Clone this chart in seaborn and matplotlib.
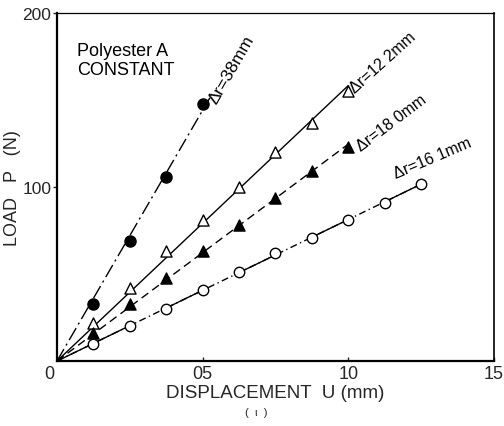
import numpy as np
import pandas as pd
import matplotlib
matplotlib.use("Agg")
import matplotlib.pyplot as plt
from matplotlib.transforms import ScaledTranslation
import seaborn as sns

# Displacement steps (mm) and measured loads (N) for each ring width
u_steps = [0.125, 0.25, 0.375, 0.5, 0.625, 0.75, 0.875, 1.0, 1.125, 1.25]
load_38 = [33, 69, 106, 148]
load_122 = [22, 42, 63, 81, 100, 120, 137, 155]
load_180 = [16, 33, 48, 63, 78, 94, 109, 123]
load_161 = [10, 20, 30, 41, 51, 62, 71, 81, 91, 102]

series_names = ["Δr=38mm", "Δr=12 2mm", "Δr=18 0mm", "Δr=16 1mm"]
series_loads = [load_38, load_122, load_180, load_161]

x_ticks = [0, 0.5, 1.0, 1.5]
x_tick_labels = ["0", "05", "10", "15"]
y_ticks = [100, 200]
y_tick_labels = ["100", "200"]

sns.set_style("ticks")
plt.rcParams["font.family"] = ["Liberation Sans", "DejaVu Sans"]

fig = plt.figure(figsize=(5.04, 4.27), dpi=100)
ax = fig.add_axes([0.113, 0.152, 0.867, 0.815])

frames = []
for name, loads in zip(series_names, series_loads):
    frames.append(pd.DataFrame({"U": u_steps[:len(loads)], "P": loads, "series": name}))
points = pd.concat(frames, ignore_index=True)


def slope_through_origin(df):
    return (df.U * df.P).sum() / (df.U ** 2).sum()


line_style = {
    "Δr=38mm": (0, (10, 3, 1.5, 3)),
    "Δr=12 2mm": "-",
    "Δr=18 0mm": (0, (6, 3.5)),
    "Δr=16 1mm": (0, (5, 2.5, 1, 2.5)),
}
line_extend = {"Δr=38mm": 0.525}

for name in series_names:
    d = points[points.series == name]
    k = slope_through_origin(d)
    x_end = line_extend.get(name, d.U.max())
    fit = pd.DataFrame({"U": [0.0, x_end]})
    fit["P"] = k * fit.U
    sns.lineplot(data=fit, x="U", y="P", ax=ax, color="black", lw=1.0,
                 linestyle=line_style[name], sort=False, estimator=None)

# solid stretches on the 16.1 mm fit line
d161 = points[points.series == "Δr=16 1mm"]
k161 = slope_through_origin(d161)
solid_bounds = [(0.0, 0.25), (0.375, 0.5), (0.625, 0.75), (0.875, 1.0), (1.125, 1.25)]
seg_rows = []
for i, (a, b) in enumerate(solid_bounds):
    seg_rows += [{"U": a, "P": k161 * a, "seg": i}, {"U": b, "P": k161 * b, "seg": i}]
segs = pd.DataFrame(seg_rows)
sns.lineplot(data=segs, x="U", y="P", units="seg", estimator=None, ax=ax,
             color="black", lw=1.0, sort=False)

marker_spec = {
    "Δr=38mm": ("o", "black", 8),
    "Δr=12 2mm": ("^", "white", 8),
    "Δr=18 0mm": ("^", "black", 8),
    "Δr=16 1mm": ("o", "white", 7.5),
}
for name in series_names:
    m, fc, ms = marker_spec[name]
    d = points[points.series == name]
    sns.scatterplot(data=d, x="U", y="P", ax=ax, marker=m, s=ms ** 2,
                    facecolor=fc, edgecolor="black", linewidth=1.0, zorder=5)

# series labels along the lines
label_pos = {
    "Δr=38mm": (0.548, 148, 60, 12.5),
    "Δr=12 2mm": (1.022, 154, 42, 11.5),
    "Δr=18 0mm": (1.045, 121, 37, 11.5),
    "Δr=16 1mm": (1.165, 105, 23, 11.5),
}
for name in series_names:
    x, y, rot, fs = label_pos[name]
    ax.text(x, y, name, rotation=rot, rotation_mode="anchor", ha="left",
            va="baseline", fontsize=fs, color="black")

ax.text(0.07, 173, "Polyester A\nCONSTANT", fontsize=13, ha="left", va="center",
        linespacing=1.2, color="black")

ax.set_xlim(0, 1.5)
ax.set_ylim(0, 200)
ax.set_xticks(x_ticks)
ax.set_xticklabels(x_tick_labels, fontsize=13)
ax.set_yticks(y_ticks)
ax.set_yticklabels(y_tick_labels, fontsize=12.5)
ax.tick_params(axis="x", direction="in", length=3, width=1, pad=3)
ax.tick_params(axis="y", direction="out", length=3, width=1, pad=1)
first = ax.get_xticklabels()[0]
first.set_transform(first.get_transform() + ScaledTranslation(-8 / 100, 0, fig.dpi_scale_trans))

ax.set_xlabel("DISPLACEMENT  U (mm)", fontsize=13.5, labelpad=1)
ax.set_ylabel("LOAD   P   (N)", fontsize=13)
ax.yaxis.set_label_coords(-0.082, 0.5)

for side in ["left", "bottom"]:
    ax.spines[side].set_linewidth(1.6)
ax.spines["top"].set_linewidth(0.9)
ax.spines["right"].set_linewidth(1.2)
for s in ax.spines.values():
    s.set_color("black")

fig.text(0.508, 0.033, "(  ι  )", fontsize=8, ha="center", va="center")

fig.savefig("out.png", dpi=100)
